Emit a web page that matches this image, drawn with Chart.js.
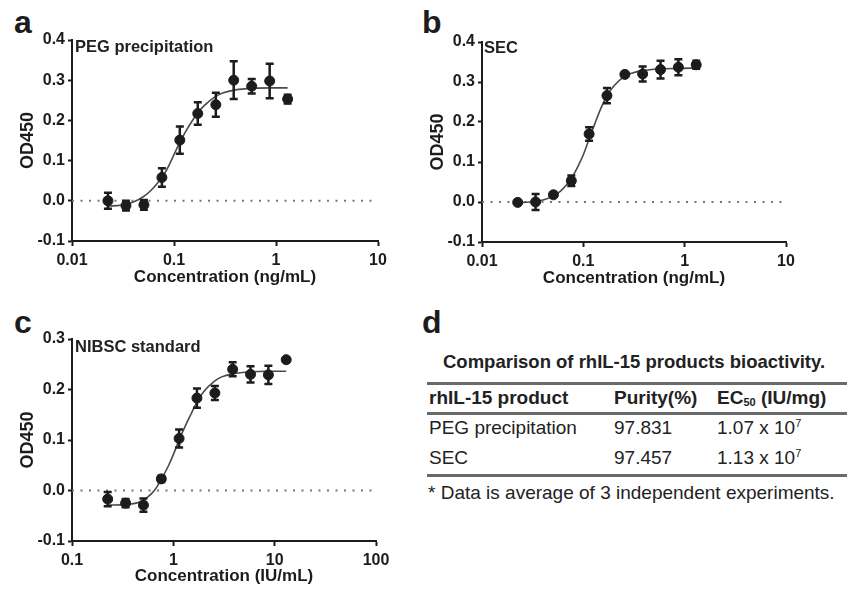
<!DOCTYPE html>
<html>
<head>
<meta charset="utf-8">
<script src="https://cdn.jsdelivr.net/npm/chart.js@4.4.1/dist/chart.umd.min.js"></script>
<style>
  body { margin: 0; background: #fff; width: 847px; height: 590px; position: relative; overflow: hidden;
         font-family: "Liberation Sans", Arial, sans-serif; color: #1c1c1c; }
  canvas { position: absolute; }
  .letter { position: absolute; font-weight: bold; font-size: 32px; line-height: 1; }
  .inner { position: absolute; font-weight: bold; font-size: 16.5px; line-height: 18px; color: #222; }
  .tbl { position: absolute; font-size: 19px; line-height: 22px; white-space: nowrap; color: #222; }
  .tbl.b { font-weight: bold; }
  .tbl.t { font-size: 18.5px; }
  .rule { position: absolute; left: 427px; width: 420px; background: #6a6a6a; }
  sub { font-size: 11px; vertical-align: -2px; line-height: 0; }
  sup { font-size: 11px; vertical-align: 7px; line-height: 0; }
</style>
</head>
<body>

<div class="letter" style="left:14px;top:6px">a</div>
<div class="letter" style="left:422px;top:6px">b</div>
<div class="letter" style="left:14px;top:306px">c</div>
<div class="letter" style="left:422px;top:306px">d</div>

<canvas id="chartA" width="400" height="295" style="left:0;top:0"></canvas>
<canvas id="chartB" width="400" height="295" style="left:410px;top:0"></canvas>
<canvas id="chartC" width="400" height="290" style="left:0;top:300px"></canvas>

<div class="inner" style="left:75px;top:37px">PEG precipitation</div>
<div class="inner" style="left:484px;top:38px">SEC</div>
<div class="inner" style="left:75px;top:337px">NIBSC standard</div>

<div id="table-d"></div>

<script>
// ── panel a: PEG precipitation ──
const concA = [0.0225, 0.0338, 0.0507, 0.0761, 0.114, 0.171, 0.257, 0.385, 0.578, 0.867, 1.3];
const odA   = [0.000, -0.012, -0.010, 0.058, 0.151, 0.217, 0.239, 0.300, 0.285, 0.298, 0.253];
const errA  = [0.020, 0.012, 0.012, 0.023, 0.034, 0.028, 0.030, 0.047, 0.018, 0.043, 0.011];
const fitXA = [0.0225, 0.03, 0.04, 0.05, 0.06, 0.07, 0.08, 0.09, 0.1, 0.115, 0.13, 0.15, 0.175, 0.2, 0.25, 0.3, 0.4, 0.6, 0.9, 1.3];
const fitYA = [-0.013, -0.011, -0.003, 0.010, 0.027, 0.046, 0.066, 0.090, 0.115, 0.147, 0.172, 0.198, 0.222, 0.238, 0.258, 0.268, 0.276, 0.280, 0.281, 0.281];

// ── panel b: SEC ──
const concB = [0.0225, 0.0338, 0.0507, 0.0761, 0.114, 0.171, 0.257, 0.385, 0.578, 0.867, 1.3];
const odB   = [-0.001, 0.000, 0.018, 0.053, 0.170, 0.266, 0.319, 0.320, 0.331, 0.337, 0.343];
const errB  = [0, 0.020, 0, 0.013, 0.017, 0.019, 0, 0.019, 0.022, 0.020, 0.010];
const fitXB = [0.0225, 0.03, 0.04, 0.05, 0.06, 0.07, 0.08, 0.09, 0.1, 0.115, 0.13, 0.15, 0.175, 0.2, 0.25, 0.3, 0.4, 0.6, 0.9, 1.3];
const fitYB = [-0.001, 0.000, 0.005, 0.014, 0.028, 0.046, 0.068, 0.093, 0.118, 0.160, 0.196, 0.236, 0.270, 0.290, 0.313, 0.322, 0.329, 0.333, 0.334, 0.335];

// ── panel c: NIBSC standard ──
const concC = [0.225, 0.338, 0.507, 0.761, 1.14, 1.71, 2.57, 3.85, 5.78, 8.67, 13.0];
const odC   = [-0.017, -0.025, -0.029, 0.023, 0.103, 0.183, 0.193, 0.240, 0.230, 0.229, 0.259];
const errC  = [0.014, 0.008, 0.013, 0.006, 0.018, 0.019, 0.014, 0.014, 0.016, 0.018, 0];
const fitXC = [0.225, 0.338, 0.45, 0.55, 0.65, 0.76, 0.9, 1.0, 1.14, 1.3, 1.5, 1.71, 2.0, 2.57, 3.0, 3.85, 5.78, 8.67, 13.0];
const fitYC = [-0.029, -0.028, -0.024, -0.014, 0.000, 0.022, 0.050, 0.071, 0.100, 0.126, 0.152, 0.175, 0.196, 0.217, 0.225, 0.231, 0.235, 0.236, 0.236];

// ticks
const xTicksAB = [0.01, 0.1, 1, 10];
const xTicksC  = [0.1, 1, 10, 100];
const yTicksAB = [-0.1, 0, 0.1, 0.2, 0.3, 0.4];
const yTicksC  = [-0.1, 0, 0.1, 0.2, 0.3];

// table d
const tableTitle = 'Comparison of rhIL-15 products bioactivity.';
const tableHead  = ['rhIL-15 product', 'Purity(%)', 'EC<sub>50</sub> (IU/mg)'];
const tableRows  = [
  ['PEG precipitation', '97.831', '1.07 x 10<sup>7</sup>'],
  ['SEC', '97.457', '1.13 x 10<sup>7</sup>']
];
const tableNote  = '* Data is average of 3 independent experiments.';

const INK = '#1c1c1c';
const FONT = '"Liberation Sans", Arial, sans-serif';

// vertikale Fehlerbalken mit Kappen, über die Skalen der Chart
const errorBars = {
  id: 'errorBars',
  afterDatasetsDraw(chart) {
    const { ctx, scales: { x, y } } = chart;
    chart.data.datasets.forEach(ds => {
      if (!ds.errors) return;
      ctx.save();
      ctx.strokeStyle = INK;
      ctx.lineWidth = 2.5;
      ds.data.forEach((p, i) => {
        const e = ds.errors[i];
        if (!e) return;
        const px = x.getPixelForValue(p.x);
        const yt = y.getPixelForValue(p.y + e);
        const yb = y.getPixelForValue(p.y - e);
        ctx.beginPath();
        ctx.moveTo(px, yt); ctx.lineTo(px, yb);
        ctx.moveTo(px - 4, yt); ctx.lineTo(px + 4, yt);
        ctx.moveTo(px - 4, yb); ctx.lineTo(px + 4, yb);
        ctx.stroke();
      });
      ctx.restore();
    });
  }
};

function makePanel(id, cfg) {
  const pts = cfg.conc.map((c, i) => ({ x: c, y: cfg.od[i] }));
  const fit = cfg.fitX.map((c, i) => ({ x: c, y: cfg.fitY[i] }));
  const xMin = cfg.xTicks[0], xMax = cfg.xTicks[cfg.xTicks.length - 1];
  const yMin = cfg.yTicks[0], yMax = cfg.yTicks[cfg.yTicks.length - 1];

  new Chart(document.getElementById(id), {
    type: 'scatter',
    data: {
      datasets: [
        {
          data: pts,
          errors: cfg.err,
          backgroundColor: INK,
          borderColor: INK,
          pointRadius: 5,
          pointHoverRadius: 5,
          clip: false,
          order: 0
        },
        {
          type: 'line',
          data: fit,
          borderColor: '#4a4a4a',
          borderWidth: 1.6,
          pointRadius: 0,
          cubicInterpolationMode: 'monotone',
          fill: false,
          order: 1
        },
        {
          type: 'line',
          data: [{ x: xMin, y: 0 }, { x: xMax, y: 0 }],
          borderColor: '#777',
          borderWidth: 2,
          borderDash: [2, 6.5],
          pointRadius: 0,
          fill: false,
          order: 2
        }
      ]
    },
    options: {
      responsive: false,
      animation: false,
      events: [],
      layout: { padding: cfg.pad },
      plugins: { legend: { display: false }, tooltip: { enabled: false } },
      scales: {
        x: {
          type: 'logarithmic',
          min: xMin, max: xMax,
          afterBuildTicks: s => { s.ticks = cfg.xTicks.map(v => ({ value: v })); },
          afterFit: s => { s.height = cfg.xH; },
          ticks: { callback: v => String(v), color: INK, font: { family: FONT, size: 16, weight: 'bold' }, padding: 5, autoSkip: false, maxRotation: 0 },
          grid: { drawOnChartArea: false, drawTicks: true, tickLength: 5, tickWidth: 2, tickColor: INK },
          border: { color: INK, width: 2 },
          title: { display: true, text: cfg.xTitle, color: INK, font: { family: FONT, size: 17, weight: 'bold' }, padding: { top: 0, bottom: cfg.titlePad } }
        },
        y: {
          min: yMin, max: yMax,
          afterBuildTicks: s => { s.ticks = cfg.yTicks.map(v => ({ value: v })); },
          afterFit: s => { s.width = 72; },
          ticks: { callback: v => v.toFixed(1), color: INK, font: { family: FONT, size: 16, weight: 'bold' }, padding: 3 },
          grid: { drawOnChartArea: false, drawTicks: true, tickLength: 4, tickWidth: 2, tickColor: INK },
          border: { color: INK, width: 2 },
          title: { display: true, text: 'OD450', color: INK, font: { family: FONT, size: 18, weight: 'bold' }, padding: { top: 17, bottom: 17 } }
        }
      }
    },
    plugins: [errorBars]
  });
}

makePanel('chartA', {
  conc: concA, od: odA, err: errA, fitX: fitXA, fitY: fitYA,
  xTicks: xTicksAB, yTicks: yTicksAB, xTitle: 'Concentration (ng/mL)',
  pad: { left: 0, top: 40, right: 22, bottom: 0 }, xH: 54, titlePad: 7
});
makePanel('chartB', {
  conc: concB, od: odB, err: errB, fitX: fitXB, fitY: fitYB,
  xTicks: xTicksAB, yTicks: yTicksAB, xTitle: 'Concentration (ng/mL)',
  pad: { left: 0, top: 42, right: 24, bottom: 0 }, xH: 53, titlePad: 6
});
makePanel('chartC', {
  conc: concC, od: odC, err: errC, fitX: fitXC, fitY: fitYC,
  xTicks: xTicksC, yTicks: yTicksC, xTitle: 'Concentration (IU/mL)',
  pad: { left: 0, top: 39, right: 24, bottom: 0 }, xH: 49, titlePad: 3
});

// Tabelle d
const colX = [429, 614, 717];
const host = document.getElementById('table-d');
const add = (html, cls, left, top) => {
  const el = document.createElement('div');
  el.className = cls;
  el.style.left = left + 'px';
  el.style.top = top + 'px';
  el.innerHTML = html;
  host.appendChild(el);
};
const rule = (top, h) => {
  const el = document.createElement('div');
  el.className = 'rule';
  el.style.top = top + 'px';
  el.style.height = h + 'px';
  host.appendChild(el);
};
add(tableTitle, 'tbl b t', 443, 351);
rule(382, 3);
tableHead.forEach((t, i) => add(t, 'tbl b', colX[i], 387));
rule(412, 3);
tableRows.forEach((row, r) => row.forEach((t, i) => add(t, 'tbl', colX[i], 417 + r * 30)));
rule(474, 3);
add(tableNote, 'tbl', 428, 482);
</script>
</body>
</html>
